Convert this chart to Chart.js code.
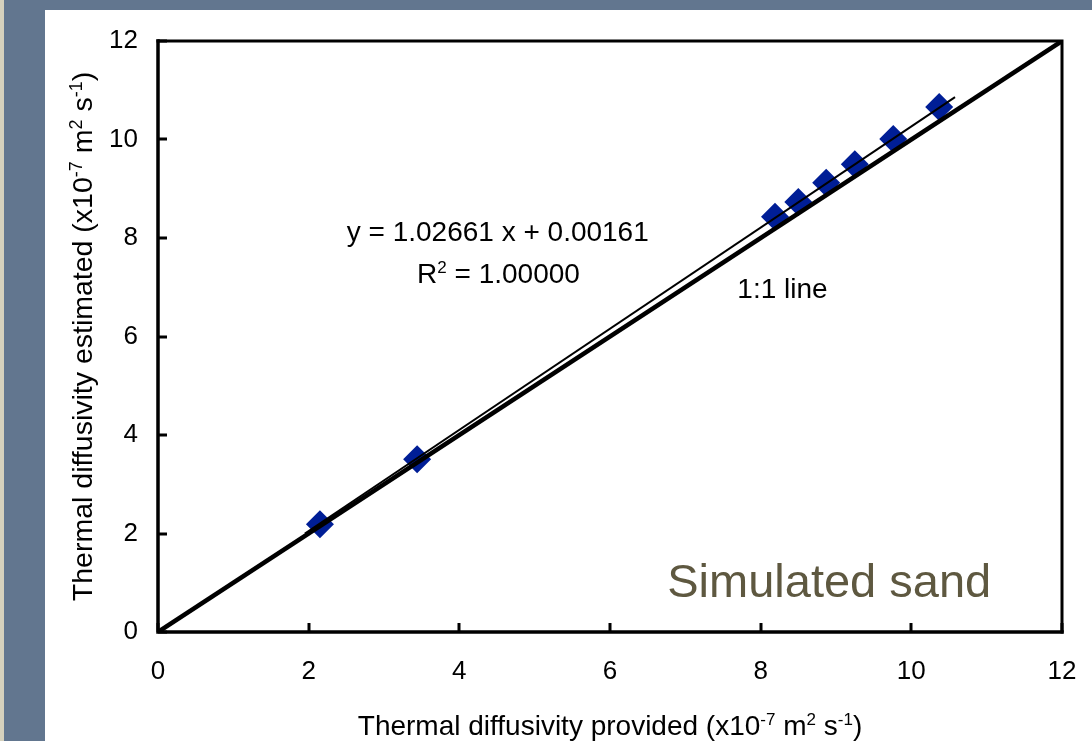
<!DOCTYPE html>
<html>
<head>
<meta charset="utf-8">
<script src="https://cdn.jsdelivr.net/npm/chart.js@4.4.0/dist/chart.umd.min.js"></script>
<style>
html, body { margin: 0; padding: 0; }
body { width: 1092px; height: 741px; position: relative; overflow: hidden; background: #62768f; }
#strip { position: absolute; left: 0; top: 0; width: 4px; height: 741px; background: #d5d1bd; }
#panel { position: absolute; left: 45px; top: 10px; width: 1047px; height: 731px; background: #ffffff; }
#wrap { position: absolute; left: 0; top: 0; width: 1092px; height: 741px; }
</style>
</head>
<body>
<div id="strip"></div>
<div id="panel"></div>
<div id="wrap"><canvas id="chart" width="1092" height="741"></canvas></div>
<script>
// values (x10^-7 m2 s-1)
const providedValues  = [2.15, 3.44, 8.19, 8.50, 8.87, 9.25, 9.76, 10.37];
const estimatedValues = [2.19, 3.51, 8.43, 8.73, 9.12, 9.50, 10.01, 10.66];

// fitted trend line ends, and the 1:1 line
const fitX = [1.95, 10.58];
const fitY = [2.00, 10.86];
const oneToOneX = [0, 12];
const oneToOneY = [0, 12];

const tickValues = [0, 2, 4, 6, 8, 10, 12];

const FONT = '"Liberation Sans", Arial, sans-serif';

function toPoints(xs, ys) {
    return xs.map((v, i) => ({ x: v, y: ys[i] }));
}

// draw text with superscript pieces, parts = [[text, isSup], ...]
function drawRich(ctx, parts, x, y, size, align) {
    const supSize = Math.round(size * 0.62);
    let total = 0;
    const widths = parts.map(p => {
        ctx.font = (p[1] ? supSize : size) + 'px ' + FONT;
        const w = ctx.measureText(p[0]).width;
        total += w;
        return w;
    });
    let cx = align === 'center' ? x - total / 2 : x;
    ctx.textAlign = 'left';
    ctx.textBaseline = 'alphabetic';
    parts.forEach((p, i) => {
        ctx.font = (p[1] ? supSize : size) + 'px ' + FONT;
        ctx.fillText(p[0], cx, p[1] ? y - size * 0.36 : y);
        cx += widths[i];
    });
}

// keep the plot box where the reference has it
function fixBox(s) {
    s.paddingLeft = 0;
    s.paddingRight = 0;
    s.paddingTop = 0;
    s.paddingBottom = 0;
}

const decorPlugin = {
    id: 'decor',
    afterDatasetsDraw(chart) {
        const { ctx, chartArea: a, scales } = chart;
        const xs = scales.x, ys = scales.y;
        ctx.save();
        ctx.strokeStyle = '#000';
        ctx.lineCap = 'square';

        // frame
        ctx.lineWidth = 3;
        ctx.beginPath();
        ctx.moveTo(a.left, a.top);
        ctx.lineTo(a.right, a.top);
        ctx.lineTo(a.right, a.bottom);
        ctx.stroke();
        ctx.lineWidth = 3.5;
        ctx.beginPath();
        ctx.moveTo(a.left, a.top);
        ctx.lineTo(a.left, a.bottom);
        ctx.lineTo(a.right, a.bottom);
        ctx.stroke();

        // inside ticks
        ctx.lineWidth = 3;
        ctx.lineCap = 'butt';
        ctx.beginPath();
        tickValues.forEach(v => {
            const px = Math.round(xs.getPixelForValue(v));
            ctx.moveTo(px, a.bottom);
            ctx.lineTo(px, a.bottom - 9);
            const py = Math.round(ys.getPixelForValue(v));
            ctx.moveTo(a.left, py);
            ctx.lineTo(a.left + 9, py);
        });
        ctx.stroke();

        // annotations
        ctx.fillStyle = '#000';
        drawRich(ctx, [['y = 1.02661 x + 0.00161', false]],
            xs.getPixelForValue(4.51), ys.getPixelForValue(7.94), 28, 'center');
        drawRich(ctx, [['R', false], ['2', true], [' = 1.00000', false]],
            xs.getPixelForValue(4.52), ys.getPixelForValue(7.09), 28, 'center');
        drawRich(ctx, [['1:1 line', false]],
            xs.getPixelForValue(7.69), ys.getPixelForValue(6.78), 28, 'left');

        ctx.fillStyle = '#5e5840';
        drawRich(ctx, [['Simulated sand', false]],
            xs.getPixelForValue(6.76), ys.getPixelForValue(0.71), 47, 'left');

        // axis titles
        ctx.fillStyle = '#000';
        const xTitle = [['Thermal diffusivity provided (x10', false], ['-7', true], [' m', false],
            ['2', true], [' s', false], ['-1', true], [')', false]];
        drawRich(ctx, xTitle, (a.left + a.right) / 2, 735, 28, 'center');

        const yTitle = [['Thermal diffusivity estimated (x10', false], ['-7', true], [' m', false],
            ['2', true], [' s', false], ['-1', true], [')', false]];
        ctx.translate(92, (a.top + a.bottom) / 2);
        ctx.rotate(-Math.PI / 2);
        drawRich(ctx, yTitle, 0, 0, 28.5, 'center');

        ctx.restore();
    }
};

const ctx = document.getElementById('chart').getContext('2d');
new Chart(ctx, {
    type: 'scatter',
    data: {
        datasets: [
            {
                label: '1:1 line',
                data: toPoints(oneToOneX, oneToOneY),
                showLine: true,
                borderColor: '#000',
                borderWidth: 4.5,
                pointRadius: 0
            },
            {
                label: 'fit',
                data: toPoints(fitX, fitY),
                showLine: true,
                borderColor: '#000',
                borderWidth: 2,
                pointRadius: 0
            },
            {
                label: 'Simulated sand',
                data: toPoints(providedValues, estimatedValues),
                pointStyle: 'rectRot',
                pointRadius: 14,
                pointHoverRadius: 14,
                backgroundColor: '#001e96',
                borderWidth: 0
            }
        ]
    },
    options: {
        responsive: false,
        devicePixelRatio: 1,
        animation: false,
        layout: { padding: { left: 0, top: 41, right: 30, bottom: 0 } },
        plugins: {
            legend: { display: false },
            tooltip: { enabled: false }
        },
        scales: {
            x: {
                type: 'linear',
                min: 0,
                max: 12,
                afterFit: s => { s.height = 109; fixBox(s); },
                afterBuildTicks: s => { s.ticks = tickValues.map(v => ({ value: v })); },
                grid: { display: false, drawTicks: false },
                border: { display: false },
                ticks: { font: { size: 26, family: FONT }, color: '#000', padding: 24 }
            },
            y: {
                type: 'linear',
                min: 0,
                max: 12,
                afterFit: s => { s.width = 158; fixBox(s); },
                afterBuildTicks: s => { s.ticks = tickValues.map(v => ({ value: v })); },
                grid: { display: false, drawTicks: false },
                border: { display: false },
                ticks: { font: { size: 26, family: FONT }, color: '#000', padding: 20 }
            }
        }
    },
    plugins: [decorPlugin]
});
</script>
</body>
</html>
